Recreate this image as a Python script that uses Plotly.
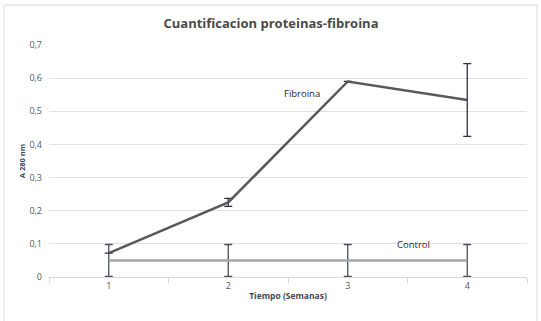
import plotly.graph_objects as go

semanas = [1, 2, 3, 4]
fibroina = [0.072, 0.225, 0.59, 0.534]
fibroina_err = [0.0, 0.012, 0.0, 0.11]
control = [0.05, 0.05, 0.05, 0.05]
control_err = [0.048, 0.048, 0.048, 0.048]
y_ticks = [0, 0.1, 0.2, 0.3, 0.4, 0.5, 0.6, 0.7]
y_ticklabels = ["0", "0,1", "0,2", "0,3", "0,4", "0,5", "0,6", "0,7"]
x_ticklabels = ["1", "2", "3", "4"]

fig = go.Figure()
fig.add_trace(go.Scatter(
    x=semanas, y=control, mode="lines", name="Control",
    line=dict(color="#a5a5a5", width=2.5),
    error_y=dict(type="data", array=control_err, color="#4a505c", thickness=1.3, width=4),
))
fig.add_trace(go.Scatter(
    x=semanas, y=fibroina, mode="lines", name="Fibroina",
    line=dict(color="#595959", width=2.5),
    error_y=dict(type="data", array=fibroina_err, color="#2b3040", thickness=1.3, width=4),
))

fig.add_annotation(x=2.62, y=0.555, text="Fibroina", showarrow=False,
                   font=dict(family="Open Sans", size=9.5, color="#222222"))
fig.add_annotation(x=3.55, y=0.098, text="Control", showarrow=False,
                   font=dict(family="Open Sans", size=9.5, color="#222222"))

fig.add_shape(type="rect", xref="paper", yref="paper",
              x0=-45/478, x1=488/478, y0=-50/232, y1=(45 + 232 - 5) / 232,
              line=dict(color="#d9d9d9", width=1), fillcolor="rgba(0,0,0,0)", layer="below")

fig.update_layout(
    width=541, height=321,
    margin=dict(l=49, r=14, t=45, b=44),
    paper_bgcolor="white", plot_bgcolor="white",
    showlegend=False,
    title=dict(text="<b>Cuantificacion proteinas-fibroina</b>", x=271/541, xref="container",
               xanchor="center", y=1 - 23.5 / 321, yref="container", yanchor="middle",
               font=dict(family="Open Sans", size=13, color="#4a4a4a")),
    font=dict(family="Open Sans", color="#595959"),
)
fig.update_xaxes(
    range=[0.5, 4.5], tickvals=semanas, ticktext=x_ticklabels, ticks="",
    showgrid=False, showline=True, linecolor="#d9d9d9", linewidth=1,
    tickfont=dict(size=9, color="#595959"), zeroline=False, automargin=False,
    minor=dict(tickvals=[0.5, 1.5, 2.5, 3.5, 4.5], ticks="outside", ticklen=5,
               tickcolor="#d9d9d9", showgrid=False),
    title=dict(text="<b>Tiempo (Semanas)</b>", standoff=2,
               font=dict(size=8.5, color="#404a5a")),
)
fig.update_yaxes(
    range=[0, 0.7], tickvals=y_ticks, ticktext=y_ticklabels,
    showgrid=True, gridcolor="#e0e0e0", gridwidth=1, zeroline=False,
    ticks="", ticklabelstandoff=6, automargin=False,
    tickfont=dict(size=9, color="#595959"),
    title=dict(text="<b>A 280 nm</b>", standoff=2,
               font=dict(size=7.5, color="#404a5a")),
)

fig.write_html("out.html", config={"displayModeBar": False},
               post_script="document.body.style.margin='0';")
